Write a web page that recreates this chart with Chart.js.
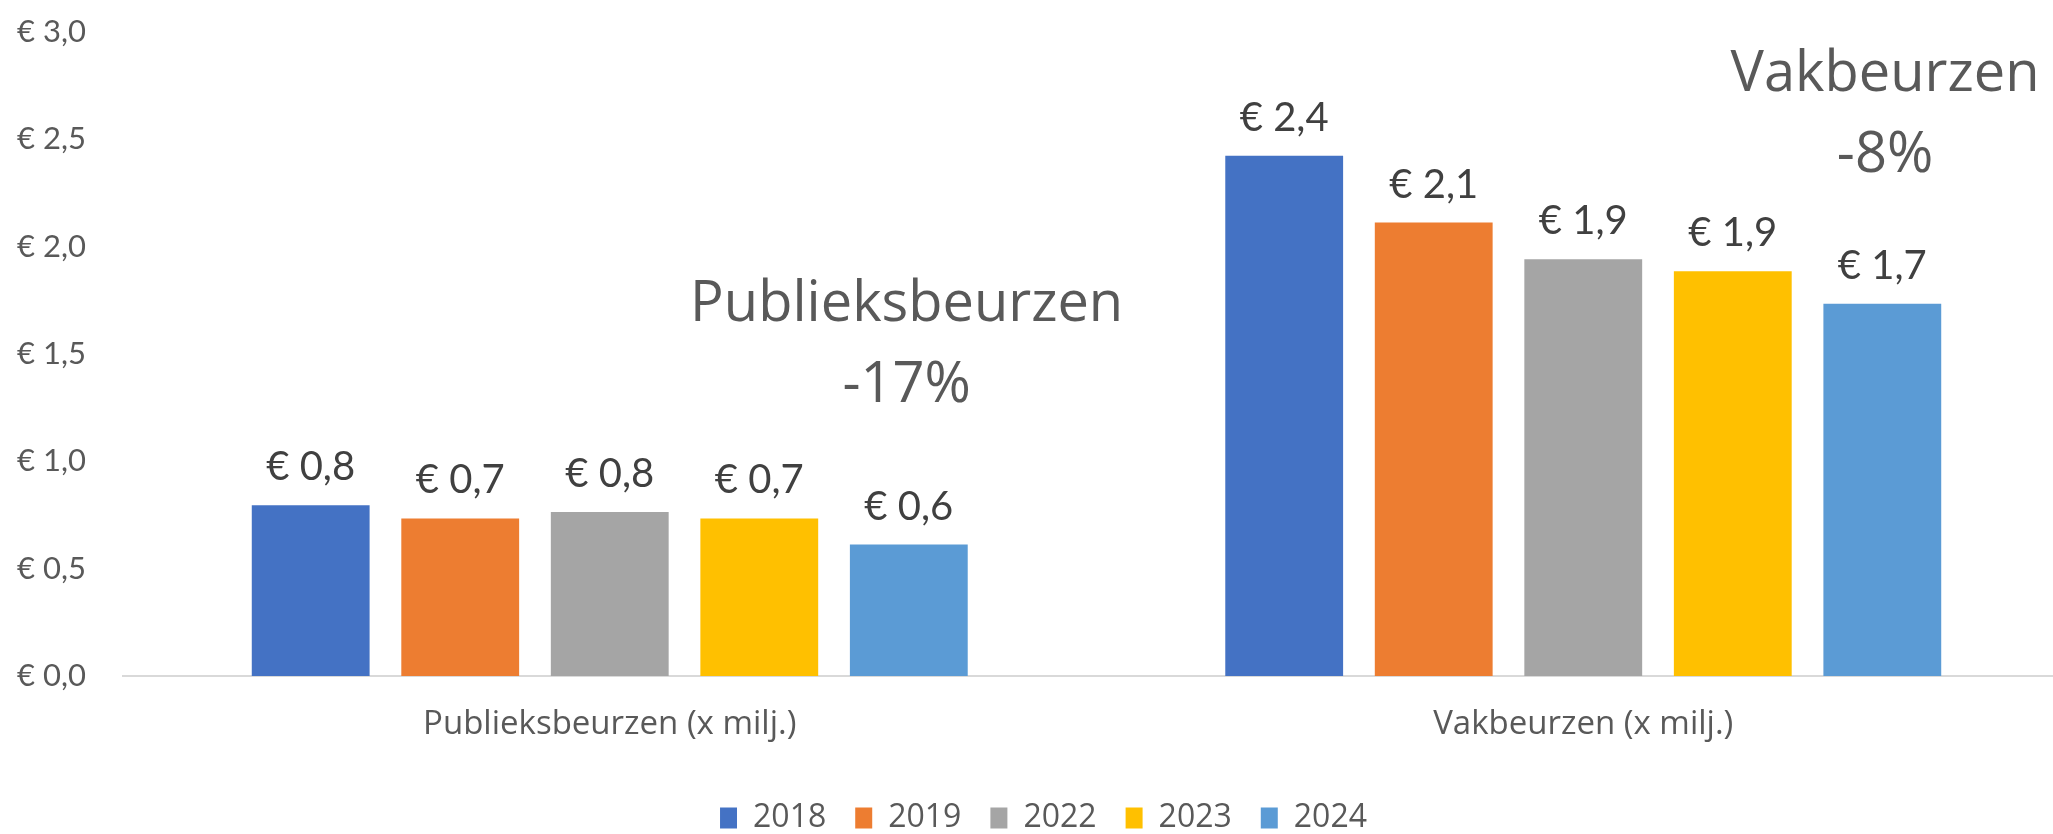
<!DOCTYPE html>
<html>
<head>
<meta charset="utf-8">
<script src="https://cdn.jsdelivr.net/npm/chart.js@4"></script>
<style>
  html, body { margin: 0; padding: 0; background: #fff; overflow: hidden; }
</style>
</head>
<body>
<canvas id="myChart" width="2071" height="834"></canvas>
<script>
const ctx = document.getElementById('myChart');

const categories = ['Publieksbeurzen (x milj.)', 'Vakbeurzen (x milj.)'];
const years = ['2018', '2019', '2022', '2023', '2024'];
const values2018 = [0.795, 2.423];
const values2019 = [0.734, 2.112];
const values2022 = [0.764, 1.941];
const values2023 = [0.734, 1.886];
const values2024 = [0.612, 1.734];
const colors = ['#4472C4', '#ED7D31', '#A5A5A5', '#FFC000', '#5B9BD5'];

const noteTitles = ['Publieksbeurzen', 'Vakbeurzen'];
const noteChanges = ['-17%', '-8%'];

// where the two notes sit (category offset, y value of first line)
const noteX = [0.305, 0.31];
const noteY = [1.728, 2.80];

const euro = (v) => '€ ' + Number(v).toFixed(1).replace('.', ',');

const data = {
    labels: categories,
    datasets: [values2018, values2019, values2022, values2023, values2024].map((vals, i) => ({
        label: years[i],
        data: vals,
        backgroundColor: colors[i],
        categoryPercentage: 0.768,
        barPercentage: 0.788,
    }))
};

const barLabels = {
    id: 'barLabels',
    afterDatasetsDraw(chart) {
        const c = chart.ctx;
        c.save();
        c.font = '40px Lato';
        c.fillStyle = '#404040';
        c.textAlign = 'center';
        c.textBaseline = 'middle';
        chart.data.datasets.forEach((ds, i) => {
            chart.getDatasetMeta(i).data.forEach((bar, j) => {
                c.fillText(euro(ds.data[j]), bar.x, bar.y - 38);
            });
        });
        c.restore();
    }
};

const notes = {
    id: 'notes',
    afterDraw(chart) {
        const c = chart.ctx;
        const x = chart.scales.x;
        const y = chart.scales.y;
        c.save();
        c.font = '56px "Open Sans"';
        c.fillStyle = '#595959';
        c.textAlign = 'center';
        c.textBaseline = 'middle';
        noteTitles.forEach((t, i) => {
            const px = x.getPixelForValue(i + noteX[i]);
            const py = y.getPixelForValue(noteY[i]);
            c.fillText(t, px, py);
            c.fillText(noteChanges[i], px, py + 81);
        });
        c.restore();
    }
};

new Chart(ctx, {
    type: 'bar',
    data: data,
    plugins: [barLabels, notes],
    options: {
        responsive: false,
        animation: false,
        layout: {
            padding: { left: 17, top: 32, right: 1, bottom: 0 }
        },
        plugins: {
            legend: {
                position: 'bottom',
                maxHeight: 61,
                labels: {
                    boxWidth: 17,
                    boxHeight: 21,
                    padding: 29,
                    color: '#595959',
                    font: { family: 'Open Sans', size: 32 }
                }
            },
            tooltip: { enabled: false }
        },
        scales: {
            x: {
                grid: { display: false, drawTicks: false },
                border: { color: '#d9d9d9', width: 2 },
                ticks: {
                    padding: 29,
                    color: '#595959',
                    font: { family: 'Open Sans', size: 33 }
                },
                afterFit: (s) => { s.height = 97; }
            },
            y: {
                min: 0,
                max: 3,
                grid: { display: false, drawTicks: false },
                border: { display: false },
                ticks: {
                    stepSize: 0.5,
                    crossAlign: 'far',
                    padding: 0,
                    color: '#595959',
                    font: { family: 'Lato', size: 31 },
                    callback: (v) => euro(v)
                },
                afterFit: (s) => { s.width = 106; }
            }
        }
    }
});
</script>
</body>
</html>
